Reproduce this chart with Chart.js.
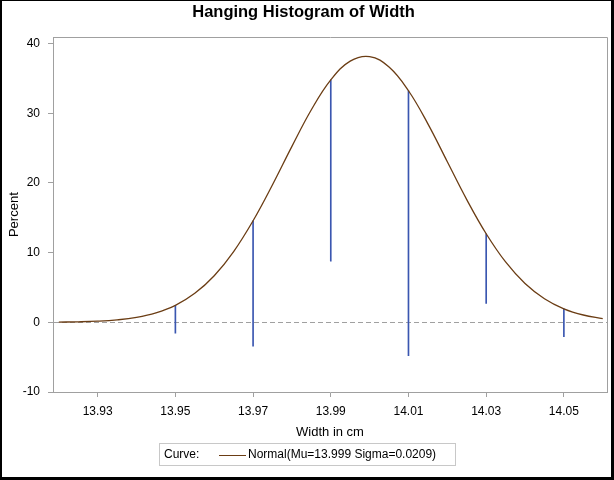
<!DOCTYPE html>
<html>
<head>
<meta charset="utf-8">
<script src="https://cdn.jsdelivr.net/npm/chart.js@4.4.0/dist/chart.umd.min.js"></script>
<style>
body{margin:0;background:#fff;}
canvas{display:block;}
</style>
</head>
<body>
<canvas id="histChart" width="614" height="480"></canvas>
<script>
// fitted normal curve
const curveX = [13.920,13.925,13.930,13.935,13.940,13.945,13.950,13.955,13.960,13.965,13.970,13.975,13.980,13.985,13.990,13.995,14.000,14.005,14.010,14.015,14.020,14.025,14.030,14.035,14.040,14.045,14.050,14.055,14.060];
const curveY = [0.03,0.07,0.16,0.35,0.71,1.36,2.44,4.16,6.69,10.16,14.58,19.74,25.25,30.50,34.79,37.48,38.13,36.63,33.23,28.48,23.04,17.61,12.71,8.66,5.57,3.39,1.94,1.05,0.54];

// hanging bars: midpoint, curve height there, bar percent
const binMid = [13.95,13.97,13.99,14.01,14.03,14.05];
const binTop = [2.44,14.58,34.79,33.23,12.71,1.94];
const binPercent = [4,18,26,38,10,4];

const xTicks = [13.93,13.95,13.97,13.99,14.01,14.03,14.05];
const xTickLabels = ["13.93","13.95","13.97","13.99","14.01","14.03","14.05"];
const yTicks = [-10,0,10,20,30,40];

const FONT = "'Liberation Sans', Arial, sans-serif";
const AXIS_GRAY = "#a0a0a0";
const CURVE_COLOR = "#6b3d14";

const framePlugin = {
    id:"frame",
    afterDraw(chart){
        const ctx = chart.ctx;
        const a = chart.chartArea;
        ctx.save();
        // top and right edges of plot box
        ctx.strokeStyle = AXIS_GRAY;
        ctx.lineWidth = 1;
        ctx.beginPath();
        ctx.moveTo(Math.round(a.left)+0.5, Math.round(a.top)+0.5);
        ctx.lineTo(Math.round(a.right)+0.5, Math.round(a.top)+0.5);
        ctx.lineTo(Math.round(a.right)+0.5, Math.round(a.bottom)+0.5);
        ctx.stroke();

        // legend box
        ctx.strokeStyle = "#c8c8c8";
        ctx.strokeRect(159.5, 443.5, 296, 22);
        ctx.fillStyle = "#000";
        ctx.font = "12px " + FONT;
        ctx.textBaseline = "middle";
        ctx.textAlign = "left";
        ctx.fillText("Curve:", 164, 455);
        ctx.strokeStyle = CURVE_COLOR;
        ctx.beginPath();
        ctx.moveTo(219, 455.5);
        ctx.lineTo(246, 455.5);
        ctx.stroke();
        ctx.fillText("Normal(Mu=13.999 Sigma=0.0209)", 248, 455);

        // outer black frame
        ctx.fillStyle = "#000";
        ctx.fillRect(0, 0, 614, 1);
        ctx.fillRect(0, 0, 2, 480);
        ctx.fillRect(611, 0, 3, 480);
        ctx.fillRect(0, 477, 614, 3);
        ctx.restore();
    }
};

new Chart(
document.getElementById("histChart"),
{
    type:"bar",
    data:{
        datasets:[
            {
                type:"line",
                label:"Normal(Mu=13.999 Sigma=0.0209)",
                data:curveX.map((x,i)=>({x:x, y:curveY[i]})),
                borderColor:CURVE_COLOR,
                borderWidth:1.3,
                pointRadius:0,
                tension:0.4,
                fill:false,
                order:0
            },
            {
                type:"bar",
                label:"Percent",
                data:binMid.map((x,i)=>({x:x, y:[binTop[i]-binPercent[i], binTop[i]]})),
                backgroundColor:"#3a56b0",
                borderWidth:0,
                barThickness:1,
                order:1
            }
        ]
    },
    options:{
        responsive:false,
        animation:false,
        devicePixelRatio:1,
        layout:{padding:{left:0,right:7,top:0,bottom:0}},
        plugins:{
            legend:{display:false},
            tooltip:{enabled:false},
            title:{
                display:true,
                text:"Hanging Histogram of Width",
                color:"#000",
                font:{family:FONT, size:16.5, weight:"bold"},
                padding:{top:3, bottom:14.5}
            }
        },
        scales:{
            x:{
                type:"linear",
                min:13.9185,
                max:14.0611,
                offset:false,
                afterFit(scale){ scale.height = 88; },
                afterBuildTicks(scale){ scale.ticks = xTicks.map(v=>({value:v})); },
                grid:{
                    offset:false,
                    drawOnChartArea:false,
                    drawTicks:true,
                    tickLength:5,
                    tickColor:AXIS_GRAY
                },
                border:{display:true, color:AXIS_GRAY, width:1},
                ticks:{
                    autoSkip:false,
                    maxRotation:0,
                    padding:7,
                    color:"#000",
                    font:{family:FONT, size:12},
                    callback:(v,i)=>xTickLabels[i]
                },
                title:{
                    display:true,
                    text:"Width in cm",
                    color:"#000",
                    font:{family:FONT, size:13},
                    padding:{top:0, bottom:40}
                }
            },
            y:{
                type:"linear",
                min:-10,
                max:40.9,
                afterFit(scale){ scale.width = 53; },
                afterBuildTicks(scale){ scale.ticks = yTicks.map(v=>({value:v})); },
                grid:{
                    drawTicks:true,
                    tickLength:5,
                    tickColor:AXIS_GRAY,
                    color:(c)=> (c.tick && c.tick.value === 0) ? AXIS_GRAY : "rgba(0,0,0,0)"
                },
                border:{display:true, color:AXIS_GRAY, width:1, dash:[5,3]},
                ticks:{
                    padding:8,
                    color:"#000",
                    font:{family:FONT, size:12}
                },
                title:{
                    display:true,
                    text:"Percent",
                    color:"#000",
                    font:{family:FONT, size:13},
                    padding:{top:7, bottom:0}
                }
            }
        }
    },
    plugins:[framePlugin]
});
</script>
</body>
</html>
